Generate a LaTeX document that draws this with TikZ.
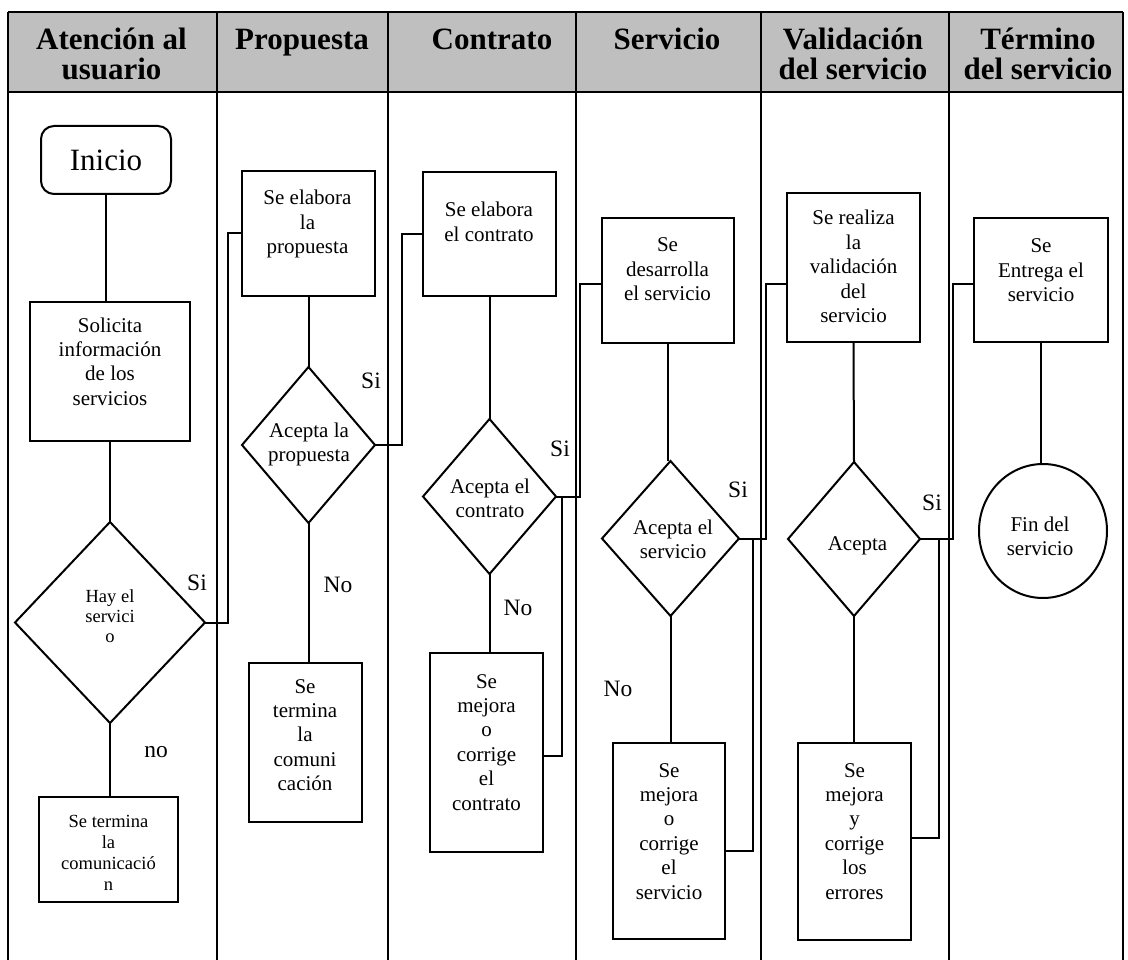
\documentclass[tikz,border=0pt]{standalone}
\usepackage{fontspec}
\setmainfont{Liberation Serif}
\usetikzlibrary{shapes.geometric}
% centred stack of lines whose baseline is the baseline of the first line
\newcommand\stk[1]{\vtop{\halign{\hfil##\hfil\cr#1\crcr}}}

\begin{document}
\begin{tikzpicture}[x=1pt,y=-1pt,
  line width=2pt,
  stepbox/.style={draw, rectangle, inner sep=0pt, outer sep=0pt},
  decision/.style={draw, diamond, inner sep=0pt, outer sep=0pt},
  startbox/.style={draw, rectangle, rounded corners=13pt, inner sep=0pt, outer sep=0pt},
  endcircle/.style={draw, ellipse, inner sep=0pt, outer sep=0pt},
  txtbody/.style={inner sep=0pt, anchor=base, font=\fontsize{21}{24.4}\selectfont},
  txtsmall/.style={inner sep=0pt, anchor=base, font=\fontsize{18.5}{20}\selectfont},
  txtsmallbox/.style={inner sep=0pt, anchor=base, font=\fontsize{18.5}{21.3}\selectfont},
  headtxt/.style={inner sep=0pt, anchor=base, font=\bfseries\fontsize{31}{30}\selectfont},
  answer/.style={inner sep=0pt, font=\fontsize{23.5}{26}\selectfont},
  flow/.style={draw, line width=2pt},
  lanes/.style={line width=2pt}
]
\useasboundingbox (0,0) rectangle (1128,960);

% swimlane table
\fill[black!25] (8,12) rectangle (1123,92);
\draw[lanes] (8,12) -- (1123,12);
\draw[lanes] (8,92) -- (1123,92);
\foreach \x in {8,217,388,576,761,949,1123} \draw[lanes] (\x,12) -- (\x,960);

\node[headtxt] (h1) at (111.5,50) {\stk{Atención al\cr usuario}};
\node[headtxt] (h2) at (302,50) {Propuesta};
\node[headtxt] (h3) at (492,50) {Contrato};
\node[headtxt] (h4) at (667,50) {Servicio};
\node[headtxt] (h5) at (853,50) {\stk{Validación\cr del servicio}};
\node[headtxt] (h6) at (1038,50) {\stk{Término\cr del servicio}};

% shapes
\node[startbox, minimum width=130pt, minimum height=68pt] (ini) at (106,160) {};
\node[stepbox, minimum width=160pt, minimum height=139pt] (sol) at (110,371.5) {};
\node[decision, minimum width=190pt, minimum height=201pt] (d1) at (110,622.5) {};
\node[stepbox, minimum width=139pt, minimum height=105pt] (ter1) at (108.5,849.5) {};

\node[stepbox, minimum width=133pt, minimum height=125pt] (prop) at (308.5,233.5) {};
\node[decision, minimum width=133pt, minimum height=156pt] (d2) at (308.5,445) {};
\node[stepbox, minimum width=113pt, minimum height=159pt] (ter2) at (305.5,742.5) {};

\node[stepbox, minimum width=133pt, minimum height=124pt] (con) at (489.5,234) {};
\node[decision, minimum width=133pt, minimum height=155pt] (d3) at (489.5,496.5) {};
\node[stepbox, minimum width=113pt, minimum height=199pt] (mej1) at (486.5,752.5) {};

\node[stepbox, minimum width=132pt, minimum height=125pt] (des) at (668,280.5) {};
\node[decision, minimum width=137pt, minimum height=155pt] (d4) at (670.5,538.5) {};
\node[stepbox, minimum width=112pt, minimum height=196pt] (mej2) at (669,841) {};

\node[stepbox, minimum width=133pt, minimum height=149pt] (val) at (853.5,267.5) {};
\node[decision, minimum width=132pt, minimum height=154pt] (d5) at (854,539) {};
\node[stepbox, minimum width=113pt, minimum height=197pt] (mej3) at (854.5,841.5) {};

\node[stepbox, minimum width=134pt, minimum height=124pt] (ent) at (1041,280) {};
\node[endcircle, minimum width=128pt, minimum height=134pt] (fin) at (1043,531) {};

% texts of the shapes
\node[inner sep=0pt, anchor=base, font=\fontsize{31}{34}\selectfont] (t-ini) at (106,171) {Inicio};
\node[txtbody] (t-sol) at (110,332) {\stk{Solicita\cr información\cr de los\cr servicios}};
\node[txtsmall] (t-d1) at (110,602) {\stk{Hay el\cr servici\cr o}};
\node[txtsmallbox] (t-ter1) at (108.5,827) {\stk{Se termina\cr la\cr comunicació\cr n}};
\node[txtbody] (t-prop) at (307.5,205) {\stk{Se elabora\cr la\cr propuesta}};
\node[txtbody] (t-d2) at (309,437) {\stk{Acepta la\cr propuesta}};
\node[txtbody] (t-ter2) at (305,693) {\stk{Se\cr termina\cr la\cr comuni\cr cación}};
\node[txtbody] (t-con) at (489,217) {\stk{Se elabora\cr el contrato}};
\node[txtbody] (t-d3) at (490,493) {\stk{Acepta el\cr contrato}};
\node[txtbody] (t-mej1) at (486.5,688) {\stk{Se\cr mejora\cr o\cr corrige\cr el\cr contrato}};
\node[txtbody] (t-des) at (667.5,252) {\stk{Se\cr desarrolla\cr el servicio}};
\node[txtbody] (t-d4) at (673,534) {\stk{Acepta el\cr servicio}};
\node[txtbody] (t-mej2) at (669,777) {\stk{Se\cr mejora\cr o\cr corrige\cr el\cr servicio}};
\node[txtbody] (t-val) at (853.5,225) {\stk{Se realiza\cr la\cr validación\cr del\cr servicio}};
\node[txtbody] (t-d5) at (857.5,550) {Acepta};
\node[txtbody] (t-mej3) at (854.5,777) {\stk{Se\cr mejora\cr y\cr corrige\cr los\cr errores}};
\node[txtbody] (t-ent) at (1041,253) {\stk{Se\cr Entrega el\cr servicio}};
\node[txtbody] (t-fin) at (1040,531) {\stk{Fin del\cr servicio}};

% answer labels
\node[answer] (a1) at (197,583) {Si};
\node[answer] (a2) at (156,752) {no};
\node[answer] (a3) at (371,381) {Si};
\node[answer] (a4) at (338,585) {No};
\node[answer] (a5) at (560,449) {Si};
\node[answer] (a6) at (518,608) {No};
\node[answer] (a7) at (738,490) {Si};
\node[answer] (a8) at (618,689) {No};
\node[answer] (a9) at (932,503) {Si};

% bend points of the lane-crossing connectors
\coordinate (k1) at (228,233.5);
\coordinate (k2) at (402,234);
\coordinate (k3) at (580,284);
\coordinate (k4) at (766,284);
\coordinate (k5) at (953,284);
% return loops from the correction boxes
\coordinate (r3) at (562,496.5);
\coordinate (q3) at (562,756);
\coordinate (r4) at (753,538.5);
\coordinate (q4) at (753,851);
\coordinate (r5) at (939,539);
\coordinate (q5) at (939,838);

% connectors
\draw[flow] (ini.south) -- (ini.south |- sol.north);
\draw[flow] (sol.south) -- (d1.north);
\draw[flow] (d1.south) -- (d1.south |- ter1.north);
\draw[flow] (d1.east) -| (k1) -- (k1 -| prop.west);

\draw[flow] (prop.south) -- (d2.north);
\draw[flow] (d2.south) -- (d2.south |- ter2.north);
\draw[flow] (d2.east) -| (k2) -- (k2 -| con.west);

\draw[flow] (con.south) -- (d3.north);
\draw[flow] (d3.south) -- (d3.south |- mej1.north);
\draw[flow] (d3.east) -| (k3) -- (k3 -| des.west);
\draw[flow] (mej1.east |- q3) -- (q3) -- (r3);

\draw[flow] (des.south) -- (des.south |- d4.north);
\draw[flow] (d4.south) -- (d4.south |- mej2.north);
\draw[flow] (d4.east) -| (k4) -- (k4 -| val.west);
\draw[flow] (mej2.east |- q4) -- (q4) -- (r4);

\draw[flow] (val.south) -- (d5.north);
\draw[flow] (d5.south) -- (d5.south |- mej3.north);
\draw[flow] (d5.east) -| (k5) -- (k5 -| ent.west);
\draw[flow] (mej3.east |- q5) -- (q5) -- (r5);

\draw[flow] (ent.south) -- (ent.south |- fin.north);
\end{tikzpicture}
\end{document}
